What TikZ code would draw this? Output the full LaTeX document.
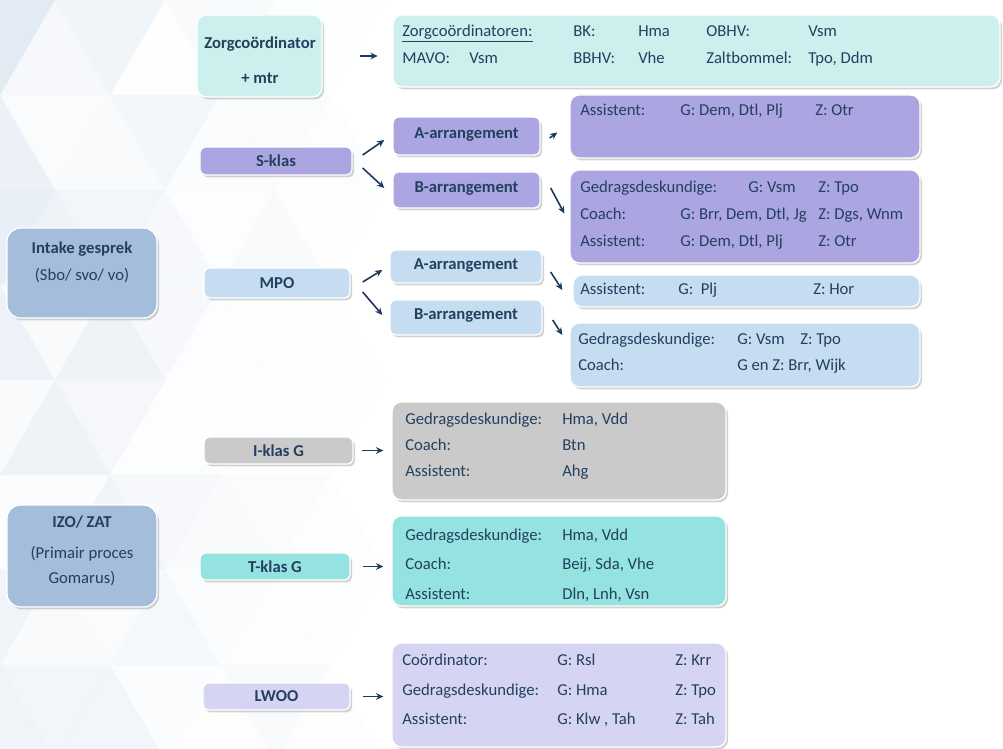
\documentclass[tikz,border=0pt]{standalone}
\usepackage{fontspec}
\setmainfont{Carlito}
\usetikzlibrary{shadows,calc,arrows.meta}
\definecolor{czorg}{HTML}{CBF0EE}
\definecolor{cpurp}{HTML}{ABA6E2}
\definecolor{csteel}{HTML}{A3BDDB}
\definecolor{clblue}{HTML}{C5DCF1}
\definecolor{cgray}{HTML}{CACACA}
\definecolor{cteal}{HTML}{95E3E0}
\definecolor{clav}{HTML}{D5D5F3}
\definecolor{cnavy}{HTML}{1F3A5F}
\definecolor{ctext}{HTML}{23405F}
\definecolor{cbg}{HTML}{C9D9EA}
\begin{document}
\begin{tikzpicture}[x=0.75pt,y=-0.75pt,
  box/.style={rounded corners=7pt, draw=white, line width=1pt, inner sep=0pt,
    drop shadow={shadow xshift=1.5pt, shadow yshift=-1.8pt, opacity=0.35}},
  smallbox/.style={box, rounded corners=4pt, font=\fontsize{12.5}{14}\selectfont\bfseries, text=ctext},
  txt/.style={anchor=west, inner sep=0pt, text height=1.6ex, text depth=.4ex, font=\fontsize{12.5}{14}\selectfont, text=ctext},
  ctxt/.style={txt, anchor=center},
  btxt/.style={ctxt, font=\fontsize{12.5}{14}\selectfont\bfseries},
  arr/.style={-{Stealth[length=5.5pt,width=5pt]}, line width=1.2pt, draw=cnavy}]
\useasboundingbox (0,0) rectangle (1003,749);
\fill[white] (0,0) rectangle (1003,749);
% background triangles
\pgfmathsetseed{11}
\foreach \r in {0,...,7}{
  \foreach \c in {-1,...,3}{
    \pgfmathsetmacro\xo{\c*110+mod(\r,2)*55}
    \pgfmathsetmacro\opa{max(0,rnd*0.55*(1-(\xo+55)/360))}
    \pgfmathsetmacro\opb{max(0,rnd*0.55*(1-(\xo+110)/360))}
    \fill[cbg, opacity=\opa] (\xo,\r*95+95) -- (\xo+55,\r*95) -- (\xo+110,\r*95+95) -- cycle;
    \fill[cbg, opacity=\opb] (\xo+55,\r*95) -- (\xo+165,\r*95) -- (\xo+110,\r*95+95) -- cycle;
  }}

% ---- Zorgcoordinator
\node[box, fill=czorg, minimum width={125*0.75pt}, minimum height={82*0.75pt}] (zc) at (259.5,56) {};
\node[btxt] (zc1) at (260,45) {Zorgcoördinator};
\node[btxt] (zc2) at (260,80) {+ mtr};
\node[box, fill=czorg, minimum width={607*0.75pt}, minimum height={72*0.75pt}] (zl) at (696.5,51) {};
\node[txt] (z1) at (402,33) {\underline{Zorgcoördinatoren:}};
\node[txt] (z2) at (573,33) {BK:};
\node[txt] (z3) at (638,33) {Hma};
\node[txt] (z4) at (706,33) {OBHV:};
\node[txt] (z5) at (808,33) {Vsm};
\node[txt] (z6) at (402,60) {MAVO:};
\node[txt] (z7) at (469,60) {Vsm};
\node[txt] (z8) at (573,60) {BBHV:};
\node[txt] (z9) at (638,60) {Vhe};
\node[txt] (z10) at (706,60) {Zaltbommel:};
\node[txt] (z11) at (808,60) {Tpo, Ddm};
\draw[arr, shorten <=28pt, shorten >=11pt] (zc.east) -- (zc.east -| zl.west);

% ---- S-klas
\node[smallbox, fill=cpurp, minimum width={152*0.75pt}, minimum height={28*0.75pt}] (sk) at (276,161) {S-klas};
\node[smallbox, fill=cpurp, minimum width={147*0.75pt}, minimum height={38*0.75pt}, text depth=5pt] (sA) at (466.5,136) {A-arrangement};
\node[smallbox, fill=cpurp, minimum width={147*0.75pt}, minimum height={36*0.75pt}, text depth=5pt] (sB) at (466.5,190) {B-arrangement};
\draw[arr] ($(sk.east)+(10,-6)$) -- ($(sA.west)+(-8,4)$);
\draw[arr] ($(sk.east)+(10,7)$) -- ($(sB.west)+(-8,-2)$);
\node[box, fill=cpurp, minimum width={350*0.75pt}, minimum height={63*0.75pt}] (sAd) at (745,126.5) {};
\node[txt] (sa1) at (580,112) {Assistent:};
\node[txt] (sa2) at (680,112) {G: Dem, Dtl, Plj};
\node[txt] (sa3) at (815,112) {Z: Otr};
\draw[arr] ($(sA.east)+(9,2)$) -- ($(sAd.west)+(-12,6)$);
\node[box, fill=cpurp, minimum width={350*0.75pt}, minimum height={93*0.75pt}] (sBd) at (745,216.5) {};
\node[txt] (sb1) at (580,189) {Gedragsdeskundige:};
\node[txt] (sb2) at (748,189) {G: Vsm};
\node[txt] (sb3) at (818,189) {Z: Tpo};
\node[txt] (sb4) at (580,216) {Coach:};
\node[txt] (sb5) at (680,216) {G: Brr, Dem, Dtl, Jg};
\node[txt] (sb6) at (818,216) {Z: Dgs, Wnm};
\node[txt] (sb7) at (580,243) {Assistent:};
\node[txt] (sb8) at (680,243) {G: Dem, Dtl, Plj};
\node[txt] (sb9) at (818,243) {Z: Otr};
\draw[arr] ($(sB.east)+(10,-2)$) -- ($(sBd.west)+(-5,-3)$);

% ---- Intake
\node[box, fill=csteel, rounded corners=10pt, minimum width={150*0.75pt}, minimum height={90*0.75pt}] (in) at (82,273) {};
\node[btxt] (in1) at (82,250) {Intake gesprek};
\node[ctxt] (in2) at (82,277) {(Sbo/ svo/ vo)};

% ---- MPO
\node[smallbox, fill=clblue, minimum width={146*0.75pt}, minimum height={30*0.75pt}] (mp) at (277,283) {MPO};
\node[smallbox, fill=clblue, minimum width={152*0.75pt}, minimum height={33*0.75pt}, text depth=4pt] (mA) at (466,266.5) {A-arrangement};
\node[smallbox, fill=clblue, minimum width={152*0.75pt}, minimum height={35*0.75pt}, text depth=5pt] (mB) at (466,317.5) {B-arrangement};
\draw[arr] ($(mp.east)+(12,-1)$) -- ($(mA.west)+(-7,3.5)$);
\draw[arr] ($(mp.east)+(12,9)$) -- ($(mB.west)+(-7,-2.5)$);
\node[box, fill=clblue, minimum width={347*0.75pt}, minimum height={32*0.75pt}] (mAd) at (746.5,291) {};
\node[txt] (ma1) at (580,291) {Assistent:};
\node[txt] (ma2) at (678,291) {G:\ \ Plj};
\node[txt] (ma3) at (813,291) {Z: Hor};
\draw[arr] ($(mA.east)+(8,5.5)$) -- ($(mAd.west)+(-10,-1)$);
\node[box, fill=clblue, minimum width={350*0.75pt}, minimum height={64*0.75pt}] (mBd) at (745,355) {};
\node[txt] (mb1) at (578,341) {Gedragsdeskundige:};
\node[txt] (mb2) at (737,341) {G: Vsm};
\node[txt] (mb3) at (800,341) {Z: Tpo};
\node[txt] (mb4) at (578,367) {Coach:};
\node[txt] (mb5) at (737,367) {G en Z: Brr, Wijk};
\draw[arr] ($(mB.east)+(10,2.5)$) -- ($(mBd.west)+(-7,-20)$);

% ---- I-klas
\node[smallbox, fill=cgray, minimum width={149*0.75pt}, minimum height={27*0.75pt}] (ik) at (278.5,450.5) {I-klas G};
\node[box, fill=cgray, minimum width={334*0.75pt}, minimum height={98*0.75pt}] (ikd) at (559,451) {};
\node[txt] (i1) at (405,421) {Gedragsdeskundige:};
\node[txt] (i2) at (562,421) {Hma, Vdd};
\node[txt] (i3) at (405,447) {Coach:};
\node[txt] (i4) at (562,447) {Btn};
\node[txt] (i5) at (405,473) {Assistent:};
\node[txt] (i6) at (562,473) {Ahg};
\draw[arr, shorten <=6.5pt, shorten >=6pt] (ik.east) -- (ik.east -| ikd.west);

% ---- IZO / ZAT
\node[box, fill=csteel, rounded corners=10pt, minimum width={150*0.75pt}, minimum height={102*0.75pt}] (iz) at (82,556) {};
\node[btxt] (iz1) at (82,524) {IZO/ ZAT};
\node[ctxt] (iz2) at (82,555) {(Primair proces};
\node[ctxt] (iz3) at (82,580) {Gomarus)};

% ---- T-klas
\node[smallbox, fill=cteal, minimum width={150*0.75pt}, minimum height={27*0.75pt}] (tk) at (275,566.5) {T-klas G};
\node[box, fill=cteal, minimum width={334*0.75pt}, minimum height={90*0.75pt}] (tkd) at (559,561) {};
\node[txt] (t1) at (405,537) {Gedragsdeskundige:};
\node[txt] (t2) at (562,537) {Hma, Vdd};
\node[txt] (t3) at (405,566) {Coach:};
\node[txt] (t4) at (562,566) {Beij, Sda, Vhe};
\node[txt] (t5) at (405,596) {Assistent:};
\node[txt] (t6) at (562,596) {Dln, Lnh, Vsn};
\draw[arr, shorten <=9pt, shorten >=6pt] (tk.east) -- (tk.east -| tkd.west);

% ---- LWOO
\node[smallbox, fill=clav, minimum width={147*0.75pt}, minimum height={27*0.75pt}] (lw) at (276.5,696.5) {LWOO};
\node[box, fill=clav, minimum width={334*0.75pt}, minimum height={104*0.75pt}] (lwd) at (559,695) {};
\node[txt] (l1) at (402,662) {Coördinator:};
\node[txt] (l2) at (557,662) {G: Rsl};
\node[txt] (l3) at (675,662) {Z: Krr};
\node[txt] (l4) at (402,692) {Gedragsdeskundige:};
\node[txt] (l5) at (557,692) {G: Hma};
\node[txt] (l6) at (675,692) {Z: Tpo};
\node[txt] (l7) at (402,721) {Assistent:};
\node[txt] (l8) at (557,721) {G: Klw , Tah};
\node[txt] (l9) at (675,721) {Z: Tah};
\draw[arr, shorten <=9pt, shorten >=6pt] (lw.east) -- (lw.east -| lwd.west);
\end{tikzpicture}
\end{document}
